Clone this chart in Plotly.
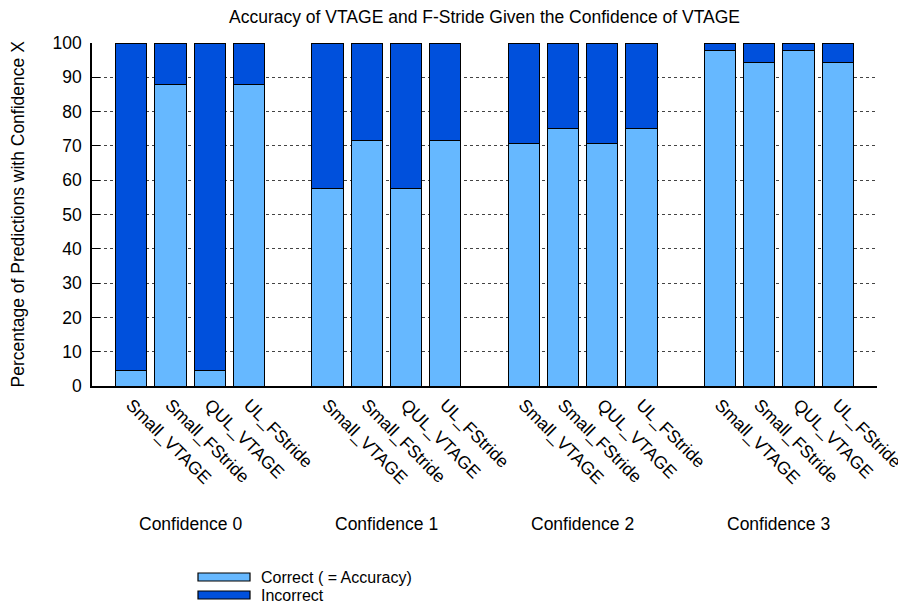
import plotly.graph_objects as go

groups = ["Confidence 0", "Confidence 1", "Confidence 2", "Confidence 3"]
bar_names = ["Small_VTAGE", "Small_FStride", "QUL_VTAGE", "UL_FStride"]
correct = [
    [4.5, 88.0, 4.5, 88.0],
    [57.7, 71.7, 57.7, 71.7],
    [70.8, 75.0, 70.8, 75.0],
    [97.7, 94.2, 97.7, 94.2],
]
incorrect = [
    [95.5, 12.0, 95.5, 12.0],
    [42.3, 28.3, 42.3, 28.3],
    [29.2, 25.0, 29.2, 25.0],
    [2.3, 5.8, 2.3, 5.8],
]
y_ticks = [0, 10, 20, 30, 40, 50, 60, 70, 80, 90, 100]
series_names = ["Correct ( = Accuracy)", "Incorrect"]

LIGHT = "#66b8ff"
DARK = "#0050dc"
FONT = "Liberation Sans, Arial, sans-serif"
FS = 17.5
LEG_FS = 16

W, H = 906, 609
ML, MR, MT, MB = 84, 37, 35, 231
PW, PH = W - ML - MR, H - MT - MB


def px_x(x):
    return (x - ML) / PW


def px_y(y):
    return (H - MB - y) / PH


xs, labels, cor, inc = [], [], [], []
for g, grp in enumerate(groups):
    for b, name in enumerate(bar_names):
        xs.append(g * (len(bar_names) + 1) + b)
        labels.append(name)
        cor.append(correct[g][b])
        inc.append(incorrect[g][b])

fig = go.Figure()
fig.add_trace(go.Bar(x=xs, y=cor, name=series_names[0], width=0.8, showlegend=False,
                     marker=dict(color=LIGHT, line=dict(color="black", width=1))))
fig.add_trace(go.Bar(x=xs, y=inc, name=series_names[1], width=0.8, showlegend=False,
                     marker=dict(color=DARK, line=dict(color="black", width=1))))

for g, grp in enumerate(groups):
    cx = g * (len(bar_names) + 1) + (len(bar_names) - 1) / 2
    fig.add_annotation(x=cx, y=px_y(516), xref="x", yref="paper", text=grp,
                       yanchor="middle", showarrow=False,
                       font=dict(size=FS, color="black", family=FONT))

# legend (drawn manually to match wide swatches)
for i, (nm, col) in enumerate(zip(series_names, [LIGHT, DARK])):
    top = 565 + i * 18
    fig.add_shape(type="rect", xref="paper", yref="paper",
                  x0=px_x(190), x1=px_x(242), y0=px_y(top), y1=px_y(top + 8),
                  fillcolor=col, line=dict(color="black", width=1.2))
    fig.add_annotation(x=px_x(251), y=px_y(top + 4), xref="paper", yref="paper",
                       text=nm, xanchor="left", yanchor="middle", showarrow=False,
                       font=dict(size=LEG_FS, color="black", family=FONT))

# y-axis title
fig.add_annotation(x=px_x(9), y=0.5, xref="paper", yref="paper",
                   text="Percentage of Predictions with Confidence X", textangle=-90,
                   xanchor="center", yanchor="middle", showarrow=False,
                   font=dict(size=FS, color="black", family=FONT))

fig.update_layout(
    barmode="stack",
    width=W, height=H,
    margin=dict(l=ML, r=MR, t=MT, b=MB, autoexpand=False),
    paper_bgcolor="white", plot_bgcolor="white",
    font=dict(family=FONT, size=FS, color="black"),
    title=dict(text="Accuracy of VTAGE and F-Stride Given the Confidence of VTAGE",
               xref="paper", x=0.5, xanchor="center", yref="container", y=1 - 9 / H,
               yanchor="middle", pad=dict(t=0, b=0),
               font=dict(size=FS, family=FONT, color="black")),
    showlegend=False,
    xaxis=dict(range=[-1, 19], tickvals=xs, ticktext=labels, tickangle=45,
               showline=True, linecolor="black", linewidth=1.5, ticks="",
               showgrid=False, zeroline=False, automargin=False,
               tickfont=dict(size=FS, family=FONT, color="black")),
    yaxis=dict(range=[0, 100], tickvals=y_ticks, showline=True, linecolor="black",
               linewidth=1.5, ticks="inside", ticklen=8, tickcolor="black",
               ticklabelstandoff=5,
               showgrid=True, gridcolor="#444444", griddash="dot", gridwidth=1,
               zeroline=False, automargin=False,
               tickfont=dict(size=FS, family=FONT, color="black")),
    yaxis2=dict(range=[0, 100], tickvals=y_ticks, overlaying="y", side="right",
                showline=False, ticks="inside", ticklen=8, tickcolor="black",
                showticklabels=False, showgrid=False, zeroline=False, automargin=False),
)

fig.write_html("out.html")
